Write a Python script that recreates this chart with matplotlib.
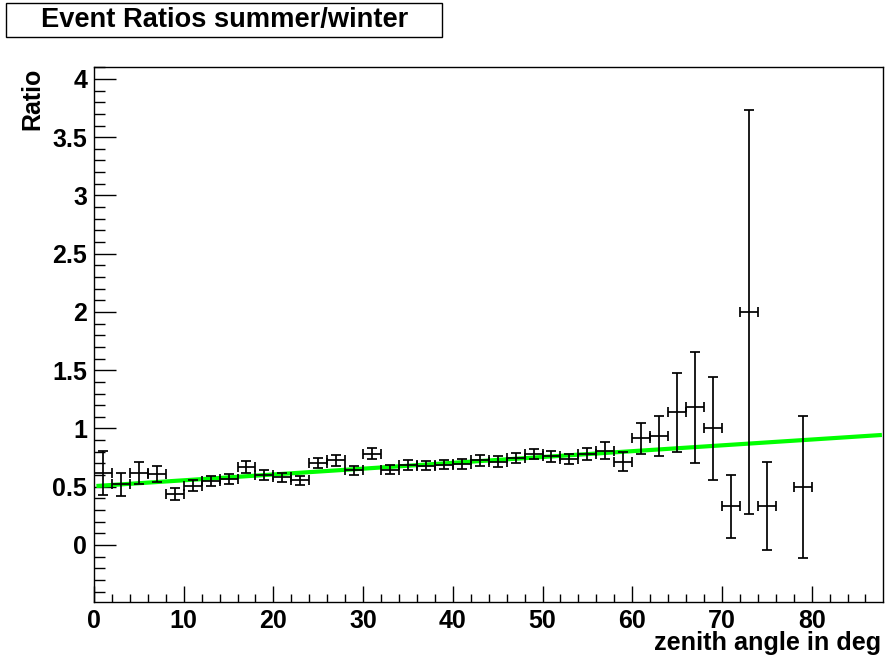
import numpy as np
import matplotlib.pyplot as plt
from matplotlib.patches import Rectangle
from matplotlib.ticker import MultipleLocator

plt.rcParams["font.family"] = ["Liberation Sans", "DejaVu Sans"]
plt.rcParams["font.weight"] = "bold"

# zenith angle bins (2 deg wide), bin centres
zenith = [1, 3, 5, 7, 9, 11, 13, 15, 17, 19, 21, 23, 25, 27, 29, 31, 33, 35, 37, 39,
          41, 43, 45, 47, 49, 51, 53, 55, 57, 59, 61, 63, 65, 67, 69, 71, 73, 75, 79]
ratio = [0.615, 0.52, 0.615, 0.61, 0.435, 0.51, 0.55, 0.565, 0.67, 0.60,
         0.58, 0.555, 0.705, 0.725, 0.64, 0.785, 0.645, 0.685, 0.68, 0.69,
         0.695, 0.725, 0.715, 0.745, 0.78, 0.76, 0.74, 0.78, 0.81, 0.715,
         0.915, 0.935, 1.14, 1.18, 1.0, 0.333, 2.0, 0.333, 0.5]
ratio_err = [0.19, 0.10, 0.095, 0.07, 0.05, 0.05, 0.045, 0.045, 0.05, 0.045,
             0.04, 0.04, 0.045, 0.045, 0.04, 0.045, 0.04, 0.04, 0.04, 0.04,
             0.04, 0.045, 0.045, 0.045, 0.045, 0.045, 0.045, 0.05, 0.075, 0.08,
             0.135, 0.17, 0.34, 0.48, 0.445, 0.27, 1.73, 0.38, 0.61]
bin_half_width = 1.0

# linear fit pol1: p0 + p1*x
fit_p0 = 0.505
fit_p1 = 0.005
fit_range = (0.5, 87.6)

fig = plt.figure(figsize=(8.86, 6.60), dpi=100)
ax = fig.add_axes([94 / 886, 1 - 601.7 / 660, (882.5 - 94) / 886, (601.7 - 66.7) / 660])

xf = np.linspace(fit_range[0], fit_range[1], 200)
ax.plot(xf, fit_p0 + fit_p1 * xf, color="#00ff00", lw=3.0, zorder=2)

ax.errorbar(zenith, ratio, xerr=bin_half_width, yerr=ratio_err, fmt="none",
            ecolor="black", elinewidth=1.25, capsize=3.5, capthick=1.25, zorder=3)

ax.set_xlim(0, 87.9)
ax.set_ylim(-0.487, 4.105)

ax.xaxis.set_major_locator(MultipleLocator(10))
ax.xaxis.set_minor_locator(MultipleLocator(2))
ax.yaxis.set_major_locator(MultipleLocator(0.5))
ax.yaxis.set_minor_locator(MultipleLocator(0.1))
ax.yaxis.set_major_formatter(plt.FuncFormatter(lambda v, p: f"{v:g}"))

ax.tick_params(axis="both", which="both", direction="in", top=False, right=False,
               width=1.0, labelsize=18)
ax.tick_params(axis="y", which="major", length=16, pad=5)
ax.tick_params(axis="y", which="minor", length=8)
ax.tick_params(axis="x", which="major", length=11.5, pad=5)
ax.tick_params(axis="x", which="minor", length=5.8)
for sp in ax.spines.values():
    sp.set_linewidth(1.0)

fig.text(881 / 886, 1 - 650 / 660, "zenith angle in deg", ha="right", va="baseline",
         fontsize=18.2, fontweight="bold")
fig.text(32 / 886, 1 - 68 / 660, "Ratio", rotation=90, ha="center", va="top",
         fontsize=18, fontweight="bold")

# title box in the top left corner
fig.patches.append(Rectangle((6 / 886, 1 - 37 / 660), (442 - 6) / 886, 34 / 660,
                             transform=fig.transFigure, facecolor="white",
                             edgecolor="black", lw=1.0))
fig.text(225 / 886, 1 - 20 / 660, "Event Ratios summer/winter", ha="center", va="center",
         fontsize=19.6, fontweight="bold")

fig.savefig("out.png", dpi=100)
